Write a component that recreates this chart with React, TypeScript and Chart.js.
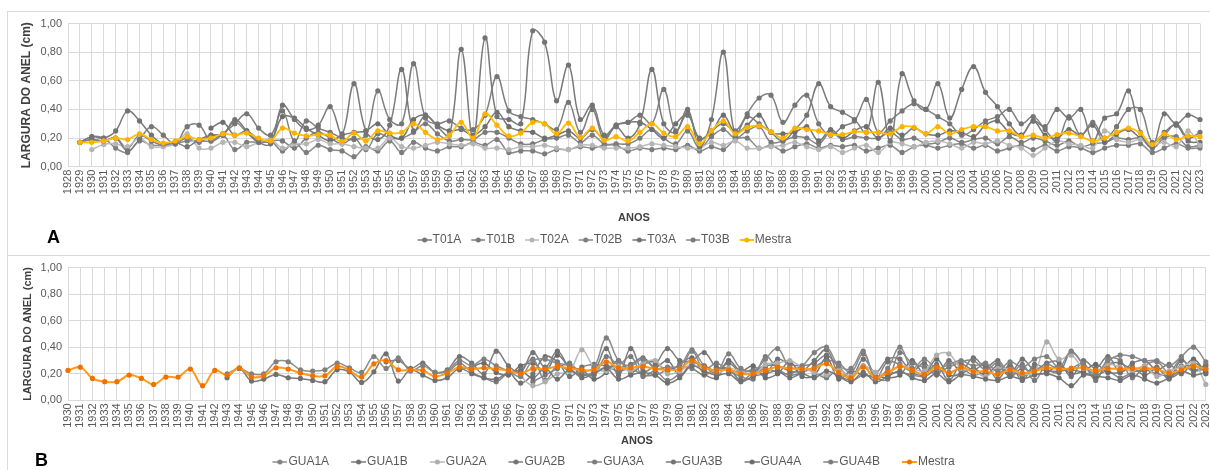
import React, { useEffect, useRef } from 'react';
import { Chart, registerables } from 'chart.js';

Chart.register(...registerables);

// ---------- categories ----------
const yearsA = [
  '1928','1929','1930','1931','1932','1933','1934','1935','1936','1937','1938','1939',
  '1940','1941','1942','1943','1944','1945','1946','1947','1948','1949',
  '1950','1951','1952','1953','1954','1955','1956','1957','1958','1959',
  '1960','1961','1962','1963','1964','1965','1966','1967','1968','1969',
  '1970','1971','1972','1973','1974','1975','1976','1977','1978','1979',
  '1980','1981','1982','1983','1984','1985','1986','1987','1988','1989',
  '1990','1991','1992','1993','1994','1995','1996','1997','1998','1999',
  '2000','2001','2002','2003','2004','2005','2006','2007','2008','2009',
  '2010','2011','2012','2013','2014','2015','2016','2017','2018','2019',
  '2020','2021','2022','2023',
];
const yearsB = [
  '1930','1931','1932','1933','1934','1935','1936','1937','1938','1939',
  '1940','1941','1942','1943','1944','1945','1946','1947','1948','1949',
  '1950','1951','1952','1953','1954','1955','1956','1957','1958','1959',
  '1960','1961','1962','1963','1964','1965','1966','1967','1968','1969',
  '1970','1971','1972','1973','1974','1975','1976','1977','1978','1979',
  '1980','1981','1982','1983','1984','1985','1986','1987','1988','1989',
  '1990','1991','1992','1993','1994','1995','1996','1997','1998','1999',
  '2000','2001','2002','2003','2004','2005','2006','2007','2008','2009',
  '2010','2011','2012','2013','2014','2015','2016','2017','2018','2019',
  '2020','2021','2022','2023',
];

// ---------- panel A series (start year + values) ----------
const T01A_start = 1929;
const T01A = [
  0.17, 0.21, 0.20, 0.25, 0.39, 0.32, 0.22, 0.16, 0.17, 0.14,
  0.19, 0.22, 0.22, 0.33, 0.25, 0.17, 0.16, 0.43, 0.33, 0.26,
  0.29, 0.42, 0.23, 0.58, 0.25, 0.19, 0.29, 0.68, 0.25, 0.36,
  0.28, 0.22, 0.82, 0.20, 0.90, 0.35, 0.33, 0.30, 0.95, 0.87,
  0.46, 0.71, 0.33, 0.43, 0.22, 0.28, 0.20, 0.30, 0.68, 0.30,
  0.24, 0.40, 0.14, 0.33, 0.80, 0.22, 0.35, 0.30, 0.24, 0.18,
  0.26, 0.36, 0.58, 0.42, 0.38, 0.33, 0.24, 0.59, 0.18, 0.65,
  0.46, 0.40, 0.58, 0.34, 0.54, 0.70, 0.52, 0.42, 0.30, 0.22,
  0.32, 0.28, 0.40, 0.34, 0.40, 0.18, 0.34, 0.37, 0.53, 0.24,
  0.14, 0.37, 0.30, 0.36, 0.33,
];
const T01B_start = 1929;
const T01B = [
  0.17, 0.19, 0.18, 0.20, 0.11, 0.19, 0.28, 0.22, 0.16, 0.28,
  0.29, 0.18, 0.23, 0.30, 0.37, 0.27, 0.22, 0.39, 0.18, 0.32,
  0.27, 0.24, 0.20, 0.19, 0.22, 0.53, 0.33, 0.30, 0.72, 0.34,
  0.30, 0.32, 0.27, 0.26, 0.36, 0.63, 0.39, 0.35, 0.33, 0.30,
  0.26, 0.45, 0.24, 0.40, 0.19, 0.29, 0.31, 0.36, 0.30, 0.54,
  0.25, 0.37, 0.19, 0.25, 0.30, 0.25, 0.37, 0.48, 0.50, 0.31,
  0.43, 0.50, 0.30, 0.22, 0.28, 0.32, 0.47, 0.24, 0.32, 0.39,
  0.44, 0.40, 0.35, 0.30, 0.22, 0.26, 0.32, 0.35, 0.40, 0.30,
  0.35, 0.26, 0.18, 0.35, 0.22, 0.31, 0.20, 0.28, 0.40, 0.40,
  0.17, 0.22, 0.30, 0.20, 0.24,
];
const T02A_start = 1930;
const T02A = [
  0.12, 0.155, 0.16, 0.14, 0.20, 0.14, 0.14, 0.16, 0.23, 0.13,
  0.13, 0.17, 0.17, 0.14, 0.17, 0.19, 0.13, 0.16, 0.16, 0.19,
  0.16, 0.16, 0.14, 0.13, 0.13, 0.20, 0.14, 0.13, 0.15, 0.17,
  0.16, 0.15, 0.16, 0.13, 0.13, 0.12, 0.14, 0.14, 0.15, 0.13,
  0.12, 0.15, 0.15, 0.13, 0.13, 0.13, 0.14, 0.16, 0.15, 0.14,
  0.13, 0.13, 0.17, 0.15, 0.18, 0.13, 0.13, 0.14, 0.15, 0.17,
  0.14, 0.12, 0.14, 0.10, 0.13, 0.15, 0.10, 0.17, 0.16, 0.14,
  0.17, 0.18, 0.16, 0.13, 0.17, 0.16, 0.18, 0.15, 0.13, 0.08,
  0.13, 0.18, 0.16, 0.15, 0.13, 0.25, 0.19, 0.17, 0.19, 0.15,
  0.17, 0.14, 0.25, 0.15,
];
const T02B_start = 1929;
const T02B = [
  0.17, 0.21, 0.20, 0.13, 0.10, 0.18, 0.15, 0.15, 0.16, 0.18,
  0.18, 0.18, 0.22, 0.12, 0.17, 0.17, 0.18, 0.11, 0.17, 0.10,
  0.15, 0.12, 0.11, 0.07, 0.14, 0.11, 0.18, 0.10, 0.17, 0.13,
  0.11, 0.14, 0.14, 0.17, 0.15, 0.19, 0.10, 0.11, 0.11, 0.09,
  0.12, 0.12, 0.14, 0.13, 0.15, 0.15, 0.11, 0.13, 0.12, 0.13,
  0.12, 0.15, 0.11, 0.14, 0.12, 0.19, 0.20, 0.13, 0.15, 0.11,
  0.14, 0.16, 0.13, 0.15, 0.14, 0.15, 0.11, 0.13, 0.15, 0.10,
  0.14, 0.15, 0.13, 0.15, 0.16, 0.13, 0.15, 0.11, 0.13, 0.15,
  0.12, 0.15, 0.11, 0.14, 0.13, 0.10, 0.13, 0.15, 0.15, 0.16,
  0.10, 0.13, 0.16, 0.13, 0.13,
];
const T03A_start = 1940;
const T03A = [
  0.27, 0.31, 0.22, 0.25, 0.19, 0.18, 0.35, 0.34, 0.27, 0.22,
  0.18, 0.22, 0.24, 0.25, 0.30, 0.22, 0.20, 0.33, 0.36, 0.29,
  0.25, 0.26, 0.22, 0.28, 0.38, 0.28, 0.25, 0.24, 0.20, 0.22,
  0.25, 0.20, 0.26, 0.20, 0.29, 0.31, 0.31, 0.26, 0.20, 0.30,
  0.36, 0.20, 0.24, 0.36, 0.24, 0.29, 0.36, 0.24, 0.23, 0.24,
  0.28, 0.18, 0.26, 0.20, 0.25, 0.28, 0.20, 0.27, 0.22, 0.27,
  0.23, 0.22, 0.25, 0.24, 0.21, 0.29, 0.32, 0.24, 0.22, 0.32,
  0.22, 0.20, 0.26, 0.22, 0.29, 0.17, 0.23, 0.26, 0.20, 0.16,
  0.24, 0.29, 0.18, 0.17,
];
const T03B_start = 1929;
const T03B = [
  0.17, 0.19, 0.18, 0.20, 0.13, 0.22, 0.18, 0.15, 0.16, 0.20,
  0.17, 0.22, 0.23, 0.31, 0.24, 0.17, 0.18, 0.18, 0.13, 0.20,
  0.24, 0.20, 0.16, 0.20, 0.12, 0.23, 0.20, 0.20, 0.24, 0.30,
  0.23, 0.18, 0.19, 0.19, 0.24, 0.24, 0.20, 0.16, 0.16, 0.19,
  0.20, 0.22, 0.17, 0.22, 0.16, 0.16, 0.16, 0.20, 0.26, 0.20,
  0.16, 0.25, 0.13, 0.21, 0.26, 0.20, 0.25, 0.28, 0.17, 0.18,
  0.21, 0.20, 0.16, 0.24, 0.19, 0.21, 0.20, 0.20, 0.24, 0.19,
  0.20, 0.16, 0.17, 0.20, 0.17, 0.19, 0.20, 0.16, 0.21, 0.17,
  0.20, 0.18, 0.15, 0.18, 0.14, 0.16, 0.17, 0.20, 0.19, 0.20,
  0.13, 0.20, 0.21, 0.14, 0.15,
];
const MestraA_start = 1929;
const MestraA = [
  0.17, 0.17, 0.18, 0.20, 0.19, 0.23, 0.19, 0.165, 0.18, 0.21,
  0.19, 0.20, 0.23, 0.22, 0.235, 0.20, 0.18, 0.27, 0.235, 0.215,
  0.225, 0.22, 0.175, 0.235, 0.18, 0.25, 0.235, 0.24, 0.30, 0.24,
  0.19, 0.22, 0.31, 0.20, 0.37, 0.29, 0.215, 0.235, 0.31, 0.30,
  0.23, 0.305, 0.205, 0.27, 0.185, 0.21, 0.18, 0.24, 0.30, 0.235,
  0.21, 0.28, 0.16, 0.25, 0.32, 0.23, 0.275, 0.285, 0.245, 0.20,
  0.27, 0.26, 0.25, 0.225, 0.225, 0.245, 0.24, 0.24, 0.23, 0.28,
  0.275, 0.23, 0.28, 0.23, 0.26, 0.28, 0.28, 0.25, 0.25, 0.21,
  0.22, 0.20, 0.225, 0.235, 0.21, 0.18, 0.20, 0.24, 0.27, 0.235,
  0.155, 0.23, 0.19, 0.215, 0.21,
];

// ---------- panel B series ----------
const GUA1A_start = 1943;
const GUA1A = [
  0.20, 0.24, 0.20, 0.20, 0.29, 0.29, 0.23,
  0.22, 0.23, 0.28, 0.245, 0.21, 0.33, 0.24, 0.32, 0.22, 0.26,
  0.21, 0.22, 0.30, 0.26, 0.31, 0.26, 0.22, 0.18, 0.30, 0.31,
  0.28, 0.26, 0.22, 0.25, 0.47, 0.30, 0.26, 0.31, 0.24, 0.25,
  0.26, 0.38, 0.26, 0.21, 0.35, 0.24, 0.22, 0.31, 0.39, 0.25,
  0.26, 0.36, 0.40, 0.26, 0.24, 0.37, 0.16, 0.24, 0.40, 0.24,
  0.31, 0.24, 0.27, 0.30, 0.26, 0.28, 0.22, 0.29, 0.25, 0.31,
  0.33, 0.25, 0.37, 0.27, 0.20, 0.30, 0.34, 0.33, 0.30, 0.30,
  0.26, 0.33, 0.40, 0.29,
];
const GUA1B_start = 1943;
const GUA1B = [
  0.17, 0.24, 0.145, 0.16, 0.195, 0.17, 0.165,
  0.15, 0.14, 0.23, 0.215, 0.135, 0.215, 0.35, 0.145, 0.23, 0.19,
  0.15, 0.17, 0.24, 0.20, 0.17, 0.16, 0.21, 0.22, 0.17, 0.24,
  0.16, 0.23, 0.17, 0.20, 0.24, 0.16, 0.19, 0.21, 0.19, 0.13,
  0.17, 0.26, 0.22, 0.19, 0.20, 0.14, 0.18, 0.20, 0.22, 0.17,
  0.20, 0.17, 0.22, 0.18, 0.14, 0.21, 0.14, 0.18, 0.22, 0.17,
  0.15, 0.20, 0.14, 0.19, 0.18, 0.16, 0.15, 0.18, 0.16, 0.19,
  0.20, 0.17, 0.11, 0.19, 0.18, 0.17, 0.15, 0.19, 0.16, 0.13,
  0.17, 0.22, 0.19, 0.21,
];
const GUA2A_start = 1967;
const GUA2A = [
  0.18, 0.11, 0.14,
  0.20, 0.22, 0.38, 0.25, 0.22, 0.26, 0.22, 0.28, 0.30, 0.20,
  0.22, 0.27, 0.22, 0.20, 0.24, 0.22, 0.19, 0.27, 0.28, 0.30,
  0.25, 0.21, 0.19, 0.23, 0.18, 0.26, 0.21, 0.20, 0.26, 0.24,
  0.22, 0.34, 0.35, 0.24, 0.22, 0.18, 0.24, 0.23, 0.20, 0.21,
  0.44, 0.31, 0.34, 0.24, 0.22, 0.27, 0.25, 0.22, 0.26, 0.18,
  0.22, 0.25, 0.28, 0.12,
];
const GUA2B_start = 1956;
const GUA2B = [
  0.29, 0.30, 0.24, 0.28,
  0.21, 0.23, 0.33, 0.28, 0.20, 0.37, 0.26, 0.21, 0.36, 0.25,
  0.37, 0.24, 0.19, 0.22, 0.39, 0.19, 0.39, 0.22, 0.27, 0.39,
  0.30, 0.30, 0.36, 0.25, 0.24, 0.15, 0.21, 0.26, 0.26, 0.22,
  0.22, 0.30, 0.38, 0.20, 0.16, 0.31, 0.21, 0.31, 0.31, 0.21,
  0.19, 0.27, 0.15, 0.27, 0.23, 0.27, 0.16, 0.27, 0.15, 0.27,
  0.23, 0.21, 0.36, 0.27, 0.17, 0.27, 0.28, 0.23, 0.22, 0.25,
  0.16, 0.30, 0.23, 0.26,
];
const GUA3A_start = 1961;
const GUA3A = [
  0.20, 0.28, 0.21, 0.17, 0.14, 0.21, 0.23, 0.31, 0.15,
  0.26, 0.22, 0.20, 0.19, 0.33, 0.27, 0.33, 0.18, 0.22, 0.15,
  0.21, 0.37, 0.23, 0.28, 0.22, 0.18, 0.16, 0.33, 0.24, 0.19,
  0.21, 0.25, 0.30, 0.28, 0.21, 0.35, 0.18, 0.16, 0.36, 0.28,
  0.25, 0.21, 0.25, 0.29, 0.30, 0.23, 0.28, 0.19, 0.27, 0.15,
  0.27, 0.23, 0.24, 0.28, 0.15, 0.31, 0.30, 0.17, 0.26, 0.29,
  0.21, 0.31, 0.22, 0.27,
];
const GUA3B_start = 1966;
const GUA3B = [
  0.23, 0.13, 0.20, 0.33,
  0.29, 0.18, 0.25, 0.27, 0.26, 0.25, 0.27, 0.32, 0.25, 0.30,
  0.19, 0.28, 0.26, 0.22, 0.28, 0.21, 0.23, 0.20, 0.31, 0.27,
  0.26, 0.28, 0.34, 0.25, 0.18, 0.26, 0.16, 0.29, 0.27, 0.22,
  0.28, 0.19, 0.30, 0.22, 0.32, 0.25, 0.30, 0.20, 0.31, 0.23,
  0.28, 0.29, 0.18, 0.30, 0.24, 0.33, 0.21, 0.28, 0.30, 0.23,
  0.27, 0.20, 0.28, 0.22,
];
const GUA4A_start = 1962;
const GUA4A = [
  0.23, 0.25, 0.28, 0.21, 0.19, 0.26, 0.28, 0.22,
  0.34, 0.25, 0.23, 0.16, 0.21, 0.30, 0.21, 0.27, 0.29, 0.22,
  0.27, 0.32, 0.20, 0.17, 0.30, 0.22, 0.26, 0.17, 0.20, 0.29,
  0.18, 0.19, 0.32, 0.16, 0.22, 0.19, 0.18, 0.17, 0.19, 0.30,
  0.20, 0.31, 0.19, 0.20, 0.24, 0.19, 0.26, 0.18, 0.24, 0.20,
  0.21, 0.26, 0.20, 0.22, 0.27, 0.21, 0.21, 0.25, 0.19, 0.24,
  0.17, 0.22, 0.31, 0.20,
];
const GUA4B_start = 1968;
const GUA4B = [
  0.14, 0.19,
  0.24, 0.28, 0.19, 0.21, 0.25, 0.22, 0.24, 0.19, 0.19, 0.23,
  0.25, 0.24, 0.19, 0.24, 0.23, 0.21, 0.20, 0.24, 0.21, 0.20,
  0.24, 0.21, 0.17, 0.24, 0.15, 0.19, 0.17, 0.20, 0.21, 0.19,
  0.18, 0.23, 0.21, 0.24, 0.19, 0.21, 0.20, 0.25, 0.18, 0.24,
  0.22, 0.22, 0.23, 0.21, 0.19, 0.22, 0.17, 0.21, 0.23, 0.20,
  0.19, 0.26, 0.22, 0.24,
];
const MestraB_start = 1930;
const MestraB = [
  0.225, 0.25, 0.165, 0.14, 0.14, 0.19, 0.165, 0.12, 0.175, 0.175,
  0.235, 0.11, 0.225, 0.19, 0.245, 0.175, 0.185, 0.245, 0.235, 0.205,
  0.185, 0.185, 0.255, 0.225, 0.175, 0.275, 0.30, 0.23, 0.23, 0.225,
  0.18, 0.205, 0.25, 0.235, 0.245, 0.235, 0.225, 0.20, 0.24, 0.235,
  0.255, 0.24, 0.23, 0.23, 0.29, 0.245, 0.245, 0.255, 0.235, 0.23,
  0.235, 0.30, 0.245, 0.225, 0.23, 0.20, 0.20, 0.225, 0.25, 0.24,
  0.235, 0.24, 0.275, 0.21, 0.17, 0.25, 0.17, 0.21, 0.255, 0.225,
  0.195, 0.25, 0.205, 0.25, 0.215, 0.22, 0.195, 0.23, 0.205, 0.22,
  0.245, 0.235, 0.24, 0.245, 0.225, 0.24, 0.235, 0.24, 0.24, 0.235,
  0.205, 0.23, 0.255, 0.235,
];

const FONT = "'Liberation Sans', Arial, sans-serif";
const GRID = '#d9d9d9';
const TXT = '#595959';
const TITLE = '#404040';

function alignTo(cats: string[], start: number, values: number[]) {
  const first = cats.indexOf(String(start));
  return cats.map((_, i) => (i >= first && i - first < values.length ? values[i - first] : null));
}

function markerImage(line: string, dot: string, iw: number, m: number, lw: number) {
  const c = document.createElement('canvas');
  c.width = iw;
  c.height = 8;
  const ctx = c.getContext('2d')!;
  ctx.strokeStyle = line;
  ctx.lineWidth = lw;
  ctx.beginPath();
  ctx.moveTo(iw - m, 4);
  ctx.lineTo(iw, 4);
  ctx.stroke();
  ctx.fillStyle = dot;
  ctx.beginPath();
  ctx.arc(iw - m / 2, 4, 2.5, 0, Math.PI * 2);
  ctx.fill();
  return c;
}

type SeriesDef = { label: string; start: number; values: number[]; line: string; dot: string; width: number; mestra?: boolean };

function buildConfig(
  cats: string[],
  series: SeriesDef[],
  geo: { padTop: number; padRight: number; xHeight: number; titlePadBottom: number; yTitleSize: number; yTitlePad: number; bw: number; marker: number },
) {
  const imgs = series.map((s) => markerImage(s.line, s.dot, geo.bw + 10, geo.marker, s.mestra ? 2 : 1.5));
  return {
    type: 'line' as const,
    data: {
      labels: cats,
      datasets: series.map((s) => ({
        label: s.label,
        data: alignTo(cats, s.start, s.values),
        borderColor: s.line,
        backgroundColor: s.dot,
        pointBackgroundColor: s.dot,
        pointBorderColor: s.dot,
        pointBorderWidth: 0,
        pointRadius: 2.6,
        borderWidth: s.width,
        tension: 0.4,
        fill: false,
        spanGaps: false,
        order: s.mestra ? -1 : 0,
      })),
    },
    options: {
      responsive: false,
      animation: false as const,
      events: [],
      layout: { padding: { top: geo.padTop, right: geo.padRight, left: 0, bottom: 0 } },
      plugins: {
        tooltip: { enabled: false },
        legend: {
          position: 'bottom' as const,
          labels: {
            usePointStyle: true,
            pointStyleWidth: geo.bw,
            padding: 8,
            color: TXT,
            font: { size: 12, family: FONT },
            generateLabels: (chart: any) => {
              const items = Chart.defaults.plugins.legend.labels.generateLabels(chart);
              return items.map((it: any) => ({ ...it, pointStyle: imgs[it.datasetIndex] }));
            },
            sort: (a: any, b: any) => a.datasetIndex - b.datasetIndex,
          },
        },
      },
      scales: {
        x: {
          type: 'category' as const,
          offset: false,
          grid: { color: GRID, lineWidth: 1, drawTicks: false },
          border: { display: false },
          ticks: {
            autoSkip: false,
            minRotation: 90,
            maxRotation: 90,
            padding: 3,
            color: TXT,
            font: { size: 11, family: FONT },
          },
          title: {
            display: true,
            text: 'ANOS',
            color: TITLE,
            font: { size: 11, weight: 'bold' as const, family: FONT },
            padding: { top: 0, bottom: geo.titlePadBottom },
          },
          afterFit: (s: any) => {
            s.height = geo.xHeight;
          },
        },
        y: {
          type: 'linear' as const,
          min: 0,
          max: 1,
          grid: { color: GRID, lineWidth: 1, drawTicks: false },
          border: { display: false },
          ticks: {
            stepSize: 0.1,
            padding: 6,
            color: TXT,
            font: { size: 11, family: FONT },
            callback: (v: any) => Number(v).toFixed(2).replace('.', ','),
          },
          title: {
            display: true,
            text: 'LARGURA DO ANEL (cm)',
            color: TITLE,
            font: { size: geo.yTitleSize, weight: 'bold' as const, family: FONT },
            padding: { top: geo.yTitlePad, bottom: 0 },
          },
          afterFit: (s: any) => {
            s.width = 61;
          },
        },
      },
    },
  };
}

const seriesA: SeriesDef[] = [
  { label: 'T01A', start: T01A_start, values: T01A, line: '#7a7a7a', dot: '#737373', width: 1.5 },
  { label: 'T01B', start: T01B_start, values: T01B, line: '#7f7f7f', dot: '#767676', width: 1.5 },
  { label: 'T02A', start: T02A_start, values: T02A, line: '#bdbdbd', dot: '#b5b5b5', width: 1.5 },
  { label: 'T02B', start: T02B_start, values: T02B, line: '#8a8a8a', dot: '#7d7d7d', width: 1.5 },
  { label: 'T03A', start: T03A_start, values: T03A, line: '#767676', dot: '#6e6e6e', width: 1.5 },
  { label: 'T03B', start: T03B_start, values: T03B, line: '#858585', dot: '#7a7a7a', width: 1.5 },
  { label: 'Mestra', start: MestraA_start, values: MestraA, line: '#FFC000', dot: '#FFB000', width: 1.8, mestra: true },
];

const seriesB: SeriesDef[] = [
  { label: 'GUA1A', start: GUA1A_start, values: GUA1A, line: '#8c8c8c', dot: '#808080', width: 1.5 },
  { label: 'GUA1B', start: GUA1B_start, values: GUA1B, line: '#7a7a7a', dot: '#707070', width: 1.5 },
  { label: 'GUA2A', start: GUA2A_start, values: GUA2A, line: '#b8b8b8', dot: '#adadad', width: 1.5 },
  { label: 'GUA2B', start: GUA2B_start, values: GUA2B, line: '#7f7f7f', dot: '#737373', width: 1.5 },
  { label: 'GUA3A', start: GUA3A_start, values: GUA3A, line: '#888888', dot: '#7a7a7a', width: 1.5 },
  { label: 'GUA3B', start: GUA3B_start, values: GUA3B, line: '#7d7d7d', dot: '#727272', width: 1.5 },
  { label: 'GUA4A', start: GUA4A_start, values: GUA4A, line: '#767676', dot: '#6b6b6b', width: 1.5 },
  { label: 'GUA4B', start: GUA4B_start, values: GUA4B, line: '#858585', dot: '#7a7a7a', width: 1.5 },
  { label: 'Mestra', start: MestraB_start, values: MestraB, line: '#FF9A1A', dot: '#F07000', width: 2, mestra: true },
];

const WA = 1210;
const HA = 245;
const WB = 1215;
const HB = 223;

export default function App() {
  const refA = useRef<HTMLCanvasElement | null>(null);
  const refB = useRef<HTMLCanvasElement | null>(null);

  useEffect(() => {
    Chart.defaults.font.family = FONT;
    const a = new Chart(
      refA.current!,
      buildConfig(yearsA, seriesA, {
        padTop: 11,
        padRight: WA - 1193,
        xHeight: 59.3,
        titlePadBottom: 1.4,
        yTitleSize: 12,
        yTitlePad: 12.8,
        bw: 11,
        marker: 14,
      }) as any,
    );
    const b = new Chart(
      refB.current!,
      buildConfig(yearsB, seriesB, {
        padTop: 8.3,
        padRight: WB - 1199,
        xHeight: 47.7,
        titlePadBottom: 0.4,
        yTitleSize: 11,
        yTitlePad: 13.9,
        bw: 24,
        marker: 15,
      }) as any,
    );
    return () => {
      a.destroy();
      b.destroy();
    };
  }, []);

  const letter: React.CSSProperties = {
    position: 'absolute',
    fontFamily: FONT,
    fontWeight: 'bold',
    fontSize: 18,
    lineHeight: '18px',
    color: '#000',
  };

  return (
    <div style={{ position: 'fixed', left: 0, top: 0, width: 1210, height: 470, overflow: 'hidden', background: '#fff' }}>
      <div style={{ position: 'absolute', left: 7, top: 11, width: 1230, height: 245, border: '1px solid #d9d9d9', boxSizing: 'border-box' }} />
      <div style={{ position: 'absolute', left: 7, top: 255, width: 1230, height: 240, border: '1px solid #d9d9d9', boxSizing: 'border-box' }} />
      <canvas ref={refA} width={WA} height={HA} style={{ position: 'absolute', left: 7, top: 11, width: WA, height: HA }} />
      <canvas ref={refB} width={WB} height={HB} style={{ position: 'absolute', left: 7, top: 255, width: WB, height: HB }} />
      <div style={{ ...letter, left: 47, top: 228 }}>A</div>
      <div style={{ ...letter, left: 35, top: 451 }}>B</div>
    </div>
  );
}
